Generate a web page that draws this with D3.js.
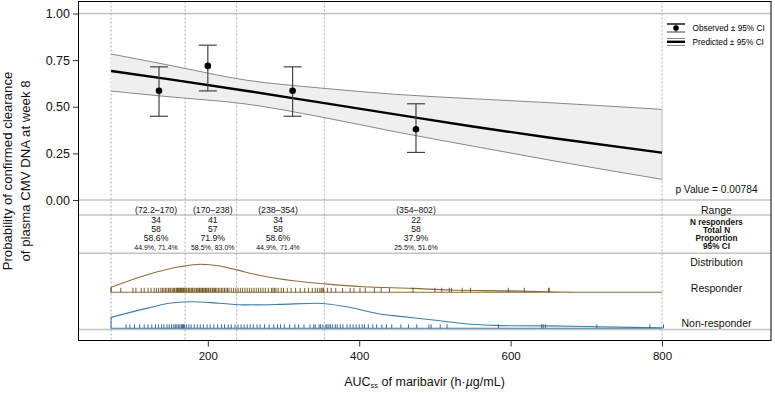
<!DOCTYPE html>
<html><head><meta charset="utf-8">
<script src="https://cdn.jsdelivr.net/npm/d3@7"></script>
<style>
html,body{margin:0;padding:0;background:#fff;}
svg{display:block;font-family:"Liberation Sans",Arial,sans-serif;}
</style></head>
<body><svg id="c" width="775" height="393"></svg>
<script>
// ---------- data ----------
const binBreaks = [72.2, 170, 238, 354, 800];
const rangeLabels = ["(72.2–170)", "(170–238)", "(238–354)", "(354–802)"];
const labelX = [131.6, 206.5, 292.7, 475];
const nResponders = ["34", "41", "34", "22"];
const totalN = ["58", "57", "58", "58"];
const proportion = ["58.6%", "71.9%", "58.6%", "37.9%"];
const ciLabels = ["44.9%, 71.4%", "58.5%, 83.0%", "44.9%, 71.4%", "25.5%, 51.6%"];

const obsX = [135.5, 200, 312, 475];
const obsP = [0.586, 0.719, 0.586, 0.379];
const obsLo = [0.449, 0.585, 0.449, 0.255];
const obsHi = [0.714, 0.830, 0.714, 0.516];

const predX = [72.2, 150, 250, 350, 450, 550, 650, 800];
const predP = [0.692, 0.647, 0.586, 0.522, 0.458, 0.394, 0.335, 0.254];
const predLo = [0.584, 0.553, 0.515, 0.445, 0.364, 0.289, 0.215, 0.111];
const predHi = [0.783, 0.722, 0.643, 0.600, 0.566, 0.543, 0.522, 0.486];

const respDensX = [72.2, 119, 163, 190, 216, 238, 273, 313, 355, 405, 471, 520, 599, 652, 718, 800];
const respDens  = [0.18, 0.62, 0.91, 1.0, 0.94, 0.80, 0.58, 0.41, 0.30, 0.20, 0.14, 0.08, 0.05, 0.02, 0.0, 0.0];
const nonDensX = [72.2, 119, 154, 180, 216, 251, 295, 344, 383, 427, 454, 498, 543, 586, 652, 718, 800];
const nonDens  = [0.41, 0.75, 0.96, 1.0, 0.94, 0.88, 0.90, 0.94, 0.81, 0.54, 0.45, 0.31, 0.16, 0.10, 0.09, 0.06, 0.02];

const respRug = [72.2,85,101,105,112,116,121,125,129,132,135,138,140,142,144,146,148,150,151,153,155,156,158,159,160,161,162,163,164,165,166,167,168,169,
  171,172,174,175,176,178,179,180,182,183,185,186,188,189,190,192,193,194,196,197,198,200,201,203,204,206,207,209,210,212,214,216,218,220,222,224,226,228,231,234,237,
  240,243,246,249,252,255,258,261,264,267,270,273,276,280,284,286,288,290,293,297,300,305,310,316,322,328,333,338,342,345,348,350,352,353,
  358,363,369,378,388,393,401,408,420,429,440,471,500,509,519,522,536,547,597,618,650,651];
const nonRug = [92,97,103,110,116,121,126,131,135,139,142,146,149,152,155,157,159,161,163,165,166,167,168,169,
  172,175,178,182,186,190,194,199,203,208,213,218,222,227,231,236,
  240,244,248,252,256,260,265,269,275,281,287,292,296,301,308,315,320,327,335,340,342,347,349,352,
  356,357.5,360,362,365,368.5,371,375,378.5,384,388,392,396,400,404,407,412,418,423,430,436,443,455,465,476,492,495,507,516,584,641,643,646,714,784,802];

const yTicks = [0, 0.25, 0.5, 0.75, 1];
const xTicks = [200, 400, 600, 800];
const rowLabels = ["N responders", "Total N", "Proportion", "95% CI"];

// ---------- layout ----------
const svg = d3.select("#c");
const L = 78, R = 771, T = 1.5, B = 340.5;
const x = d3.scaleLinear().domain([28.5, 944]).range([L, R]);
const y = d3.scaleLinear().domain([0, 1]).range([200, 13.5]);
const yR = d3.scaleLinear().domain([0, 1]).range([292.3, 264.3]);
const yN = d3.scaleLinear().domain([0, 1]).range([328.3, 301.7]);
const labCX = (x(800) + R) / 2;

// horizontal gray separators
[y(1), y(0), 215, 253.3, 329.5].forEach(v => {
  svg.append("line").attr("x1", L).attr("x2", R).attr("y1", v).attr("y2", v)
    .attr("stroke", "#c4c4c4").attr("stroke-width", 1.4);
});

// dashed vertical lines at bin breaks
svg.selectAll(".vd").data(binBreaks).enter().append("line")
  .attr("x1", d => x(d)).attr("x2", d => x(d)).attr("y1", T).attr("y2", B)
  .attr("stroke", "#9a9a9a").attr("stroke-width", 0.8).attr("stroke-dasharray", "2,2");

// prediction band
const pred = predX.map((v, i) => ({x: v, p: predP[i], lo: predLo[i], hi: predHi[i]}));
svg.append("path").datum(pred)
  .attr("d", d3.area().x(d => x(d.x)).y0(d => y(d.lo)).y1(d => y(d.hi)).curve(d3.curveMonotoneX))
  .attr("fill", "#efefef").attr("stroke", "none");
["lo", "hi"].forEach(k => {
  svg.append("path").datum(pred)
    .attr("d", d3.line().x(d => x(d.x)).y(d => y(d[k])).curve(d3.curveMonotoneX))
    .attr("fill", "none").attr("stroke", "#7a7a7a").attr("stroke-width", 0.9);
});
svg.append("line").attr("x1", x(800)).attr("x2", x(800)).attr("y1", y(predLo[predLo.length-1])).attr("y2", y(predHi[predHi.length-1]))
  .attr("stroke", "#bdbdbd").attr("stroke-width", 0.8);
svg.append("path").datum(pred)
  .attr("d", d3.line().x(d => x(d.x)).y(d => y(d.p)).curve(d3.curveMonotoneX))
  .attr("fill", "none").attr("stroke", "#000").attr("stroke-width", 2.4);

// observed points with error bars
const obs = obsX.map((v, i) => ({x: v, p: obsP[i], lo: obsLo[i], hi: obsHi[i]}));
const eb = svg.selectAll(".eb").data(obs).enter().append("g");
eb.append("line").attr("x1", d => x(d.x)).attr("x2", d => x(d.x)).attr("y1", d => y(d.lo)).attr("y2", d => y(d.hi))
  .attr("stroke", "#444").attr("stroke-width", 1.2);
eb.append("line").attr("x1", d => x(d.x) - 9).attr("x2", d => x(d.x) + 9).attr("y1", d => y(d.lo)).attr("y2", d => y(d.lo))
  .attr("stroke", "#444").attr("stroke-width", 1.2);
eb.append("line").attr("x1", d => x(d.x) - 9).attr("x2", d => x(d.x) + 9).attr("y1", d => y(d.hi)).attr("y2", d => y(d.hi))
  .attr("stroke", "#444").attr("stroke-width", 1.2);
eb.append("circle").attr("cx", d => x(d.x)).attr("cy", d => y(d.p)).attr("r", 3.3).attr("fill", "#000");

// table text
const rowsY = [220, 229, 238, 247.3];
const tbl = svg.append("g").attr("text-anchor", "middle").attr("fill", "#111");
rangeLabels.forEach((t, i) => {
  tbl.append("text").attr("x", x(labelX[i])).attr("y", 210).attr("dy", "0.35em").attr("font-size", 8.7).text(t);
  tbl.append("text").attr("x", x(labelX[i])).attr("y", rowsY[0]).attr("dy", "0.35em").attr("font-size", 8.7).text(nResponders[i]);
  tbl.append("text").attr("x", x(labelX[i])).attr("y", rowsY[1]).attr("dy", "0.35em").attr("font-size", 8.7).text(totalN[i]);
  tbl.append("text").attr("x", x(labelX[i])).attr("y", rowsY[2]).attr("dy", "0.35em").attr("font-size", 8.7).text(proportion[i]);
  tbl.append("text").attr("x", x(labelX[i])).attr("y", rowsY[3]).attr("dy", "0.35em").attr("font-size", 7).text(ciLabels[i]);
});
rowLabels.forEach((t, i) => {
  tbl.append("text").attr("x", labCX).attr("y", 222 + i * 8.2).attr("dy", "0.35em")
    .attr("font-size", 8.2).attr("font-weight", "bold").text(t);
});
[["Range", 210], ["Distribution", 262], ["Responder", 288], ["Non-responder", 323]].forEach(([t, v]) => {
  tbl.append("text").attr("x", labCX).attr("y", v).attr("dy", "0.35em").attr("font-size", 10.5).text(t);
});
tbl.append("text").attr("x", labCX).attr("y", 189.5).attr("dy", "0.35em").attr("font-size", 10.2).text("p Value = 0.00784");

// densities
function density(xs, ds, ys, col) {
  const pts = xs.map((v, i) => ({x: v, d: ds[i]}));
  svg.append("path").datum(pts)
    .attr("d", d3.area().x(d => x(d.x)).y0(ys(0)).y1(d => ys(d.d)).curve(d3.curveMonotoneX))
    .attr("fill", "none").attr("stroke", col).attr("stroke-width", 1.1);
}
density(respDensX, respDens, yR, "#8c6d3a");
density(nonDensX, nonDens, yN, "#3f7ea6");

svg.selectAll(".rr").data(respRug).enter().append("line")
  .attr("x1", d => x(d)).attr("x2", d => x(d)).attr("y1", yR(0)).attr("y2", yR(0) - 4.5)
  .attr("stroke", "#6a4b16").attr("stroke-width", 0.9);
svg.selectAll(".nr").data(nonRug).enter().append("line")
  .attr("x1", d => x(d)).attr("x2", d => x(d)).attr("y1", yN(0)).attr("y2", yN(0) - 4)
  .attr("stroke", "#225d88").attr("stroke-width", 0.9);

// legend
const lg = svg.append("g");
const lx0 = 667, lx1 = 685;
lg.append("line").attr("x1", lx0).attr("x2", lx1).attr("y1", 24).attr("y2", 24).attr("stroke", "#000").attr("stroke-width", 1.4);
lg.append("line").attr("x1", lx0).attr("x2", lx1).attr("y1", 32).attr("y2", 32).attr("stroke", "#444").attr("stroke-width", 1);
lg.append("line").attr("x1", (lx0+lx1)/2).attr("x2", (lx0+lx1)/2).attr("y1", 24).attr("y2", 32).attr("stroke", "#444").attr("stroke-width", 1);
lg.append("circle").attr("cx", (lx0+lx1)/2).attr("cy", 28).attr("r", 2.8).attr("fill", "#000");
lg.append("line").attr("x1", lx0).attr("x2", lx1).attr("y1", 38.5).attr("y2", 38.5).attr("stroke", "#888").attr("stroke-width", 1);
lg.append("line").attr("x1", lx0).attr("x2", lx1).attr("y1", 41.8).attr("y2", 41.8).attr("stroke", "#000").attr("stroke-width", 2.4);
lg.append("line").attr("x1", lx0).attr("x2", lx1).attr("y1", 45.5).attr("y2", 45.5).attr("stroke", "#888").attr("stroke-width", 1);
lg.append("text").attr("x", 692.5).attr("y", 28).attr("dy", "0.35em").attr("font-size", 8.3).text("Observed ± 95% CI");
lg.append("text").attr("x", 692.5).attr("y", 42.5).attr("dy", "0.35em").attr("font-size", 8.3).text("Predicted ± 95% CI");

// border
svg.append("rect").attr("x", L + 0.5).attr("y", T).attr("width", R - L - 0.5).attr("height", B - T)
  .attr("fill", "none").attr("stroke", "#000").attr("stroke-width", 1);

// y axis
const ya = svg.append("g").attr("transform", `translate(${L},0)`)
  .call(d3.axisLeft(y).tickValues(yTicks).tickFormat(d3.format(".2f")).tickSize(5).tickPadding(3));
ya.select(".domain").remove();
ya.selectAll("text").attr("font-size", 12.5).attr("font-family", "Liberation Sans, Arial, sans-serif").attr("fill", "#111");
ya.selectAll("line").attr("stroke", "#333");

// x axis
const xa = svg.append("g").attr("transform", `translate(0,${B})`)
  .call(d3.axisBottom(x).tickValues(xTicks).tickFormat(d3.format("d")).tickSize(6).tickPadding(5));
xa.select(".domain").remove();
xa.selectAll("text").attr("font-size", 11.5).attr("font-family", "Liberation Sans, Arial, sans-serif").attr("fill", "#111");
xa.selectAll("line").attr("stroke", "#333");

// axis titles
const xt = svg.append("text").attr("x", (L + R) / 2).attr("y", 386).attr("text-anchor", "middle")
  .attr("font-size", 12.5).attr("fill", "#111");
xt.append("tspan").text("AUC");
xt.append("tspan").attr("font-size", 7.5).attr("dy", 2).text("ss");
xt.append("tspan").attr("dy", -2).text(" of maribavir (h·");
xt.append("tspan").attr("font-style", "italic").text("µ");
xt.append("tspan").text("g/mL)");

const yt = svg.append("g").attr("transform", `translate(0,171) rotate(-90)`).attr("text-anchor", "middle")
  .attr("font-size", 13.2).attr("fill", "#111");
yt.append("text").attr("x", 0).attr("y", 12).text("Probability of confirmed clearance");
yt.append("text").attr("x", 0).attr("y", 30).text("of plasma CMV DNA at week 8");
</script>
</body></html>
